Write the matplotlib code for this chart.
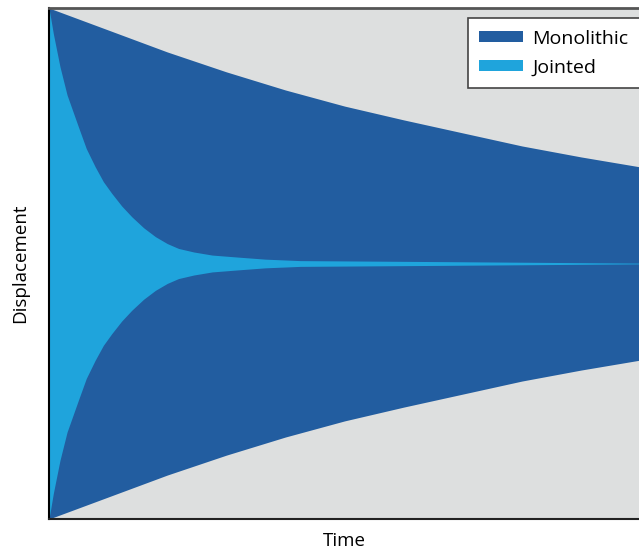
import matplotlib
matplotlib.use("Agg")
import matplotlib.pyplot as plt

plt.rcParams['font.family'] = ['Open Sans', 'DejaVu Sans']

# envelope amplitudes (time and displacement normalised)
mono_t = [0.0, 0.1, 0.2, 0.3, 0.4, 0.5, 0.6, 0.7, 0.8, 0.9, 1.0]
mono_amp = [1.0, 0.914, 0.828, 0.75, 0.679, 0.616, 0.562, 0.511, 0.46,
            0.417, 0.378]

joint_t = [0.0, 0.0073, 0.0125, 0.0186, 0.0305, 0.0497, 0.063, 0.078, 0.092,
           0.106, 0.123, 0.140, 0.160, 0.180, 0.200, 0.219, 0.245, 0.276,
           0.32, 0.366, 0.425, 0.663, 1.0]
joint_amp = [1.0, 0.90, 0.84, 0.77, 0.66, 0.535, 0.45, 0.379, 0.32,
             0.275, 0.225, 0.183, 0.14, 0.105, 0.078, 0.059, 0.045, 0.033,
             0.025, 0.017, 0.0113, 0.0074, 0.0015]

labels = ['Monolithic', 'Jointed']
colors = ['#225da0', '#1fa4dc']

fig = plt.figure(figsize=(6.39, 5.51), dpi=100)
ax = fig.add_axes([49 / 639, 32 / 551, 1 - 49 / 639 + 0.002, 511 / 551])
ax.set_facecolor('#dddfdf')

ax.fill_between(mono_t, [-a for a in mono_amp], mono_amp,
                color=colors[0], linewidth=0, label=labels[0])
ax.fill_between(joint_t, [-a for a in joint_amp], joint_amp,
                color=colors[1], linewidth=0, label=labels[1])

ax.set_xlim(0, 1.0)
ax.set_ylim(-1, 1)
ax.set_xticks([])
ax.set_yticks([])

ax.spines['right'].set_visible(False)
ax.spines['top'].set_color('#555555')
ax.spines['top'].set_linewidth(2)
ax.spines['left'].set_linewidth(1.5)
ax.spines['bottom'].set_linewidth(1.5)
ax.spines['left'].set_color('black')
ax.spines['bottom'].set_color('#222222')

ax.set_xlabel('Time', fontsize=13.5, labelpad=9)
ax.set_ylabel('Displacement', fontsize=13.5, labelpad=14)

leg = ax.legend(loc='upper right', bbox_to_anchor=(640 / 639, 1 - 18 / 551),
                bbox_transform=fig.transFigure, borderaxespad=0,
                fontsize=14, fancybox=False, framealpha=1,
                edgecolor='#444444', handlelength=2.27, handleheight=0.47,
                borderpad=0.6, labelspacing=0.55, handletextpad=0.45)
leg.get_frame().set_linewidth(1.2)

plt.savefig('out.png', dpi=100)
